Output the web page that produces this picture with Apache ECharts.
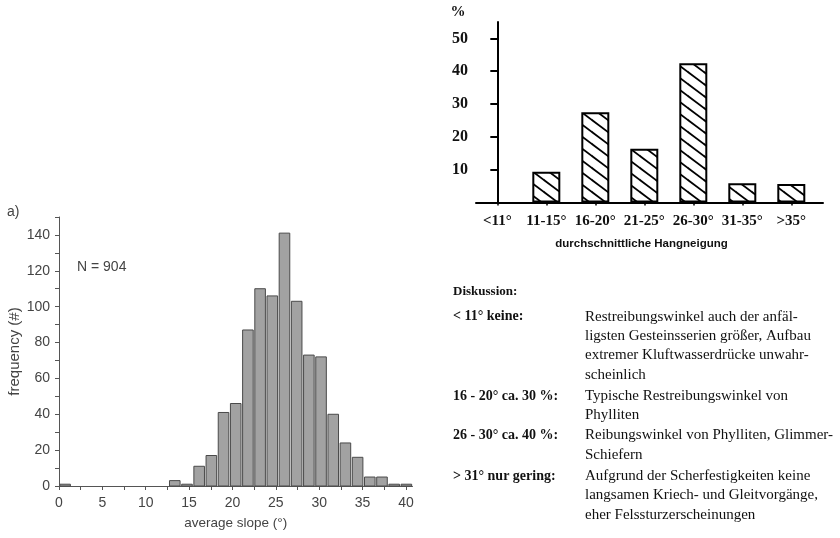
<!DOCTYPE html>
<html><head><meta charset="utf-8">
<script src="https://cdn.jsdelivr.net/npm/echarts@6/dist/echarts.min.js"></script>
<style>html,body{margin:0;padding:0;background:#fff}#c{width:840px;height:538px}</style>
</head><body><div id="c"></div>
<script>
// ---- Histogram (a) ----
const histBinWidth = 1.405;
const histCounts = [1,0,0,0,0,0,0,0,0,3,1,11,17,41,46,87,110,106,141,103,73,72,40,24,16,5,5,1,1];
const histYTicks = [0,10,20,30,40,50,60,70,80,90,100,110,120,130,140,150];
const histYLabels = [0,20,40,60,80,100,120,140];
const histXTicks = [0,2.5,5,7.5,10,12.5,15,17.5,20,22.5,25,27.5,30,32.5,35,37.5,40];
const histXLabels = [0,5,10,15,20,25,30,35,40];

// ---- Bar chart (Hangneigung) ----
const slopeCats = ['<11°','11-15°','16-20°','21-25°','26-30°','31-35°','>35°'];
const slopePct = [0, 9.4, 27.5, 16.4, 42.4, 5.9, 5.6];
const pctTicks = [10,20,30,40,50];

// ---- Diskussion text ----
const discTitle = 'Diskussion:';
const discHeads = ['< 11° keine:', '16 - 20° ca. 30 %:', '26 - 30° ca. 40 %:', '> 31° nur gering:'];
const discTexts = [
  ['Restreibungswinkel auch der anfäl-','ligsten Gesteinsserien größer, Aufbau','extremer Kluftwasserdrücke unwahr-','scheinlich'],
  ['Typische Restreibungswinkel von','Phylliten'],
  ['Reibungswinkel von Phylliten, Glimmer-','Schiefern'],
  ['Aufgrund der Scherfestigkeiten keine','langsamen Kriech- und Gleitvorgänge,','eher Felssturzerscheinungen']
];

// hatch pattern
const hatch = document.createElement('canvas');
const HW = 16, HH = 12;
hatch.width = HW; hatch.height = HH;
const hc = hatch.getContext('2d');
hc.fillStyle = '#fff'; hc.fillRect(0,0,HW,HH);
hc.strokeStyle = '#000'; hc.lineWidth = 1.8;
for (let k = -1; k <= 1; k++) {
  hc.beginPath();
  hc.moveTo(-HW, -HH + k*HH);
  hc.lineTo(2*HW, 2*HH + k*HH);
  hc.stroke();
}

const SANS = 'Liberation Sans';
const SERIF = 'Liberation Serif';
const gray = '#444';

const chart = echarts.init(document.getElementById('c'), null, {renderer:'canvas'});

const rowTops = [316.7, 396, 435.3, 476];
const LH = 19.4;
const graphics = [
  {type:'text', x:7, y:212, style:{text:'a)', fontFamily:SANS, fontSize:14, fill:gray, verticalAlign:'middle'}},
  {type:'text', x:77, y:266.7, style:{text:'N = 904', fontFamily:SANS, fontSize:14, fill:gray, verticalAlign:'middle'}},
  {type:'text', x:458, y:12.5, style:{text:'%', fontFamily:SERIF, fontWeight:'bold', fontSize:15, fill:'#111', align:'center', verticalAlign:'middle'}},
  {type:'text', x:453, y:291.7, style:{text:discTitle, fontFamily:SERIF, fontWeight:'bold', fontSize:13, fill:'#111', verticalAlign:'middle'}}
];
discHeads.forEach((h, i) => {
  graphics.push({type:'text', x:453, y:rowTops[i] - LH/2, style:{text:h, fontFamily:SERIF, fontWeight:'bold', fontSize:14, fill:'#111', verticalAlign:'top', lineHeight:LH}});
  graphics.push({type:'text', x:585, y:rowTops[i] - LH/2, style:{text:discTexts[i].join('\n'), fontFamily:SERIF, fontSize:15, fill:'#111', verticalAlign:'top', lineHeight:LH}});
});

chart.setOption({
  animation:false,
  backgroundColor:'#fff',
  grid:[
    {left:59, right:427.5, top:217, bottom:52},
    {left:476, right:17, top:22, bottom:335.5}
  ],
  xAxis:[
    {gridIndex:0, type:'value', min:0, max:40.75, splitLine:{show:false},
     axisLine:{lineStyle:{color:'#555', width:1}},
     axisTick:{customValues:histXTicks, length:4, lineStyle:{color:'#555'}},
     axisLabel:{customValues:histXLabels, fontFamily:SANS, fontSize:14, color:gray, margin:10},
     name:'average slope (°)', nameLocation:'middle', nameGap:30,
     nameTextStyle:{fontFamily:SANS, fontSize:13.5, color:gray}},
    {gridIndex:1, type:'value', min:-0.435, max:6.647, splitLine:{show:false},
     axisLine:{lineStyle:{color:'#000', width:2}},
     axisTick:{customValues:[0,1,2,3,4,5,6], length:3, lineStyle:{color:'#000', width:1.5}},
     axisLabel:{customValues:[0,1,2,3,4,5,6], formatter:(v)=>slopeCats[Math.round(v)],
       fontFamily:SERIF, fontWeight:'bold', fontSize:15, color:'#111', margin:11},
     name:'durchschnittliche Hangneigung', nameLocation:'middle', nameGap:35,
     nameTextStyle:{fontFamily:SANS, fontWeight:'bold', fontSize:11.5, color:'#111', padding:[0,16,0,0]}}
  ],
  yAxis:[
    {gridIndex:0, type:'value', min:0, max:150, splitLine:{show:false},
     axisLine:{show:true, lineStyle:{color:'#555', width:1}},
     axisTick:{show:true, customValues:histYTicks, length:4, lineStyle:{color:'#555'}},
     axisLabel:{customValues:histYLabels, fontFamily:SANS, fontSize:14, color:gray, margin:9},
     name:'frequency (#)', nameLocation:'middle', nameGap:32, nameRotate:90,
     nameTextStyle:{fontFamily:SANS, fontSize:15, color:gray}},
    {gridIndex:1, type:'value', min:0, max:55, splitLine:{show:false},
     axisLine:{show:true, lineStyle:{color:'#000', width:2}},
     axisTick:{show:true, customValues:pctTicks, length:7, lineStyle:{color:'#000', width:2}},
     axisLabel:{customValues:pctTicks, fontFamily:SERIF, fontWeight:'bold', fontSize:16, color:'#111', margin:8}}
  ],
  series:[
    {type:'custom', xAxisIndex:0, yAxisIndex:0,
     data: histCounts.map((c,i)=>[i*histBinWidth, (i+1)*histBinWidth, c]),
     encode:{x:[0,1], y:2},
     renderItem:(params, api)=>{
       const v = api.value(2);
       if (!(v > 0)) return null;
       const p0 = api.coord([api.value(0), v]);
       const p1 = api.coord([api.value(1), 0]);
       return {type:'rect', shape:{x:p0[0]+0.8, y:p0[1], width:p1[0]-p0[0]-1.6, height:p1[1]-p0[1]},
         style:{fill:'#a2a2a2', stroke:'#4a4a4a', lineWidth:1}};
     }},
    {type:'bar', xAxisIndex:1, yAxisIndex:1, barWidth:28,
     data: slopePct.map((v,i)=> v > 0 ? [i, v] : {value:[i, v], itemStyle:{borderWidth:0, opacity:0}}),
     itemStyle:{color:{image:hatch, repeat:'repeat'}, borderColor:'#000', borderWidth:2}}
  ],
  graphic: graphics
});
</script></body></html>
